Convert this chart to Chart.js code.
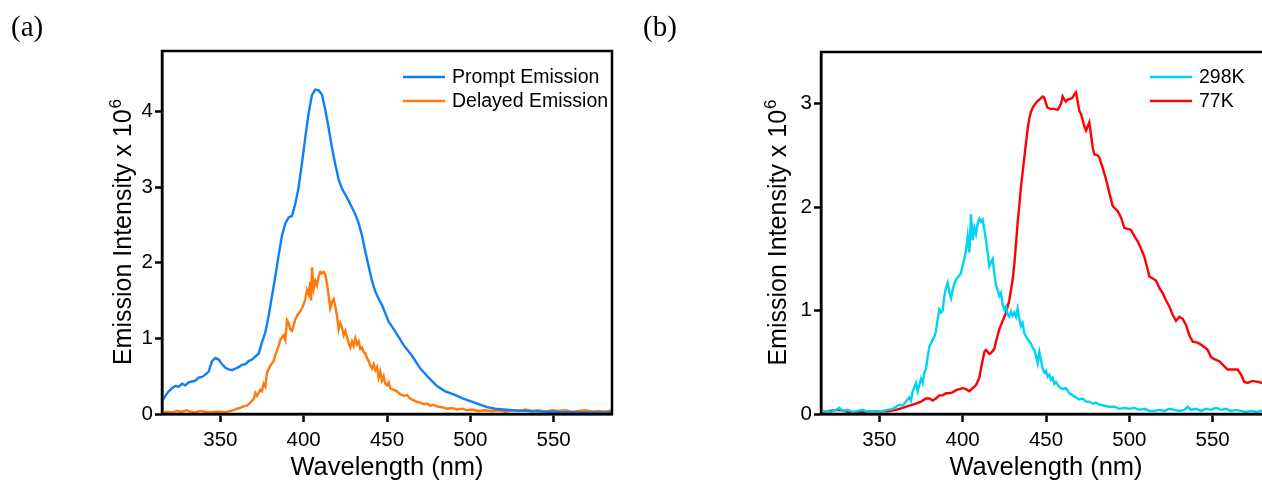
<!DOCTYPE html>
<html>
<head>
<meta charset="utf-8">
<script src="https://cdn.jsdelivr.net/npm/chart.js@4/dist/chart.umd.min.js"></script>
<style>
  html, body { margin: 0; padding: 0; background: #fff; }
  body { width: 1262px; height: 492px; overflow: hidden; position: relative; }
  #chartA { position: absolute; left: 0; top: 0; }
  #chartB { position: absolute; left: 640px; top: 0; }
</style>
</head>
<body>
<canvas id="chartA" width="640" height="492"></canvas>
<canvas id="chartB" width="660" height="492"></canvas>
<script>
// ===== Data (wavelength in nm, intensity x 10^6) =====

const xTicks = [350, 400, 450, 500, 550];
const yTicksA = [0, 1, 2, 3, 4];
const yTicksB = [0, 1, 2, 3];

const promptWl = [315, 317, 319, 321, 323, 325, 327, 329, 331, 333, 335, 337, 339, 341, 343, 345, 347, 349, 351, 353, 355, 357, 359, 361, 363, 365, 367, 369, 371, 373, 375, 377, 379, 381, 383, 385, 387, 389, 391, 393, 395, 397, 399, 401, 403, 405, 407, 409, 411, 413, 415, 417, 419, 421, 423, 425, 427, 429, 431, 433, 435, 437, 439, 441, 443, 445, 447, 449, 451, 455, 460, 465, 470, 475, 480, 485, 490, 495, 500, 505, 510, 515, 520, 525, 530, 535, 540, 545, 550, 555, 560, 565, 570, 575, 580, 585];
const promptVal = [0.16, 0.24, 0.30, 0.34, 0.37, 0.36, 0.40, 0.38, 0.42, 0.43, 0.44, 0.48, 0.49, 0.52, 0.56, 0.70, 0.74, 0.72, 0.66, 0.61, 0.59, 0.58, 0.60, 0.62, 0.65, 0.66, 0.70, 0.72, 0.76, 0.80, 0.95, 1.08, 1.30, 1.56, 1.82, 2.10, 2.36, 2.52, 2.60, 2.62, 2.78, 3.00, 3.32, 3.66, 3.98, 4.22, 4.29, 4.28, 4.22, 4.02, 3.78, 3.52, 3.30, 3.10, 2.98, 2.90, 2.82, 2.73, 2.64, 2.52, 2.36, 2.15, 1.95, 1.76, 1.62, 1.52, 1.44, 1.33, 1.22, 1.09, 0.91, 0.77, 0.60, 0.48, 0.37, 0.30, 0.26, 0.21, 0.17, 0.13, 0.09, 0.07, 0.06, 0.05, 0.045, 0.04, 0.035, 0.03, 0.03, 0.025, 0.025, 0.02, 0.02, 0.02, 0.02, 0.02];

const delayedWl = [315, 318, 321, 324, 327, 330, 332, 335, 338, 341, 344, 347, 350, 353, 356, 358, 360, 362, 364, 366, 368, 370, 371, 372, 374, 375, 376, 377, 378, 380, 382, 383, 385, 386, 388, 389, 390, 391, 392, 393, 395, 396, 398, 399, 400, 401, 402, 403, 404, 404.5, 405, 406, 407, 408, 409, 410, 411, 412, 413, 414, 415, 416, 417, 418, 419, 420, 421, 422, 423, 424, 425, 426, 427, 428, 429, 430, 431, 432, 433, 434, 435, 436, 437, 438, 439, 440, 441, 442, 443, 444, 445, 446, 447, 448, 449, 450, 451, 452, 454, 456, 458, 460, 462, 464, 466, 468, 470, 472, 474, 476, 478, 480, 483, 486, 489, 492, 495, 498, 501, 505, 509, 513, 517, 521, 525, 529, 533, 537, 541, 545, 549, 553, 557, 561, 565, 569, 573, 577, 581, 585];
const delayedVal = [0.02, 0.03, 0.02, 0.04, 0.03, 0.05, 0.03, 0.02, 0.04, 0.03, 0.02, 0.03, 0.03, 0.02, 0.04, 0.05, 0.07, 0.08, 0.10, 0.11, 0.15, 0.20, 0.28, 0.24, 0.32, 0.30, 0.40, 0.36, 0.55, 0.64, 0.70, 0.78, 0.90, 0.98, 1.04, 0.98, 1.24, 1.20, 1.12, 1.10, 1.25, 1.30, 1.36, 1.40, 1.45, 1.52, 1.64, 1.58, 1.75, 1.50, 1.94, 1.66, 1.76, 1.70, 1.82, 1.88, 1.86, 1.88, 1.84, 1.72, 1.56, 1.40, 1.48, 1.52, 1.42, 1.30, 1.12, 1.20, 1.14, 1.04, 1.10, 1.02, 0.94, 0.88, 0.96, 0.90, 1.00, 0.92, 0.96, 0.86, 0.88, 0.82, 0.80, 0.74, 0.70, 0.64, 0.60, 0.66, 0.58, 0.62, 0.48, 0.56, 0.44, 0.50, 0.40, 0.38, 0.42, 0.34, 0.32, 0.30, 0.26, 0.24, 0.25, 0.20, 0.18, 0.16, 0.15, 0.13, 0.14, 0.11, 0.12, 0.10, 0.09, 0.07, 0.08, 0.06, 0.07, 0.05, 0.06, 0.04, 0.05, 0.04, 0.05, 0.03, 0.05, 0.04, 0.06, 0.04, 0.05, 0.03, 0.05, 0.04, 0.05, 0.03, 0.04, 0.05, 0.03, 0.04, 0.03, 0.05];

const rtWl = [315, 318, 321, 324, 326, 328, 331, 334, 337, 340, 343, 346, 349, 352, 355, 358, 360, 362, 364, 366, 368, 369, 370, 371, 372, 373, 374, 375, 376, 377, 378, 379, 380, 381, 382, 383, 384, 385, 386, 387, 388, 389, 390, 391, 392, 393, 394, 395, 396, 398, 399, 400, 401, 402, 403, 404, 405, 406, 407, 408, 409, 410, 411, 412, 413, 414, 415, 416, 417, 418, 419, 420, 421, 422, 423, 424, 425, 426, 427, 428, 429, 430, 431, 432, 433, 434, 435, 436, 437, 438, 439, 440, 441, 442, 443, 444, 445, 446, 447, 448, 449, 450, 451, 452, 453, 454, 455, 456, 458, 460, 462, 464, 466, 468, 470, 472, 474, 476, 478, 480, 482, 485, 488, 491, 494, 497, 500, 503, 506, 509, 512, 515, 518, 521, 524, 527, 530, 533, 535, 537, 540, 543, 546, 549, 552, 555, 558, 561, 564, 567, 570, 573, 576, 579, 582, 585];
const rtVal = [0.02, 0.03, 0.02, 0.04, 0.06, 0.03, 0.04, 0.02, 0.03, 0.04, 0.02, 0.03, 0.02, 0.03, 0.04, 0.05, 0.07, 0.09, 0.08, 0.12, 0.16, 0.13, 0.22, 0.26, 0.30, 0.22, 0.28, 0.34, 0.30, 0.40, 0.44, 0.55, 0.65, 0.68, 0.72, 0.75, 0.80, 0.92, 1.01, 0.98, 1.00, 1.14, 1.22, 1.27, 1.18, 1.12, 1.20, 1.26, 1.30, 1.34, 1.36, 1.44, 1.50, 1.58, 1.72, 1.56, 1.93, 1.68, 1.80, 1.74, 1.84, 1.89, 1.86, 1.88, 1.78, 1.68, 1.55, 1.43, 1.47, 1.50, 1.36, 1.24, 1.20, 1.14, 1.17, 1.06, 1.01, 1.04, 0.96, 0.94, 0.99, 0.95, 0.98, 0.94, 1.02, 0.92, 0.85, 0.88, 0.78, 0.75, 0.72, 0.70, 0.68, 0.64, 0.62, 0.56, 0.49, 0.60, 0.52, 0.44, 0.40, 0.42, 0.36, 0.38, 0.33, 0.35, 0.29, 0.31, 0.26, 0.24, 0.25, 0.20, 0.18, 0.16, 0.14, 0.15, 0.12, 0.12, 0.10, 0.11, 0.09, 0.08, 0.07, 0.07, 0.05, 0.06, 0.05, 0.06, 0.04, 0.05, 0.03, 0.03, 0.04, 0.03, 0.05, 0.04, 0.03, 0.04, 0.07, 0.04, 0.05, 0.03, 0.05, 0.04, 0.06, 0.04, 0.05, 0.03, 0.04, 0.03, 0.02, 0.03, 0.02, 0.03, 0.02, 0.03];

const lowWl = [315, 320, 325, 328, 331, 334, 337, 340, 345, 350, 355, 360, 364, 368, 372, 375, 378, 380, 382, 384, 386, 388, 390, 392, 394, 396, 398, 400, 402, 404, 406, 408, 410, 411, 412, 413, 414, 415, 416, 417, 419, 420, 422, 424, 426, 428, 429, 430, 431, 432, 433, 434, 435, 436, 437, 438, 439, 440, 441, 442, 444, 446, 448, 449, 450, 451, 453, 455, 457, 459, 460, 461, 462, 463, 465, 466, 467, 468, 469, 470, 471, 473, 474, 475, 476, 477, 478, 479, 481, 482, 484, 486, 488, 490, 492, 493, 495, 497, 499, 501, 503, 505, 507, 509, 511, 512, 514, 516, 518, 520, 522, 524, 526, 528, 530, 532, 534, 536, 538, 541, 544, 547, 549, 551, 554, 557, 559, 562, 565, 567, 569, 571, 574, 577, 580, 583, 585];
const lowVal = [0.02, 0.03, 0.04, 0.035, 0.02, 0.01, 0.02, 0.02, 0.025, 0.025, 0.025, 0.04, 0.06, 0.08, 0.10, 0.12, 0.15, 0.15, 0.13, 0.15, 0.18, 0.18, 0.20, 0.20, 0.21, 0.23, 0.24, 0.25, 0.24, 0.22, 0.25, 0.28, 0.35, 0.44, 0.52, 0.60, 0.62, 0.60, 0.58, 0.59, 0.63, 0.70, 0.82, 0.90, 0.98, 1.10, 1.20, 1.30, 1.45, 1.65, 1.85, 2.02, 2.20, 2.34, 2.48, 2.62, 2.76, 2.86, 2.92, 2.96, 3.01, 3.04, 3.07, 3.06, 3.00, 2.96, 2.95, 2.95, 2.94, 3.00, 3.07, 3.04, 3.02, 3.04, 3.05, 3.06, 3.09, 3.11, 3.02, 2.93, 2.90, 2.78, 2.74, 2.78, 2.82, 2.70, 2.58, 2.51, 2.50, 2.48, 2.38, 2.27, 2.14, 2.01, 1.98, 1.96, 1.90, 1.80, 1.79, 1.78, 1.72, 1.67, 1.60, 1.52, 1.40, 1.33, 1.31, 1.29, 1.22, 1.17, 1.10, 1.04, 0.96, 0.90, 0.94, 0.92, 0.86, 0.76, 0.70, 0.69, 0.66, 0.62, 0.55, 0.53, 0.51, 0.46, 0.43, 0.43, 0.43, 0.38, 0.31, 0.30, 0.32, 0.31, 0.30, 0.29, 0.30];

document.addEventListener("DOMContentLoaded", () => {

  const black = "#000";
  const sans = "'Liberation Sans', Arial, sans-serif";

  function pts(xs, ys) {
    return xs.map((x, i) => ({ x: x, y: ys[i] }));
  }

  // box, axis titles, panel label and legend drawn on top of the chart
  const decorPlugin = {
    id: "decor",
    afterDraw(chart, args, opts) {
      const ctx = chart.ctx;
      const a = chart.chartArea;
      ctx.save();

      // frame
      ctx.strokeStyle = black;
      ctx.lineWidth = 2.5;
      ctx.strokeRect(a.left, a.top, a.right - a.left, a.bottom - a.top);

      ctx.fillStyle = black;

      // panel label
      ctx.font = "29px 'Liberation Serif', 'Times New Roman', serif";
      ctx.textAlign = "left";
      ctx.textBaseline = "alphabetic";
      ctx.fillText(opts.panel, opts.panelX, 36);

      // x title
      ctx.font = "25.5px " + sans;
      ctx.textAlign = "center";
      ctx.fillText("Wavelength (nm)", (a.left + a.right) / 2, 475);

      // y title with superscript
      const main = "Emission Intensity x 10";
      ctx.save();
      ctx.translate(a.left - opts.yTitleGap, (a.top + a.bottom) / 2);
      ctx.rotate(-Math.PI / 2);
      ctx.font = "25px " + sans;
      const w1 = ctx.measureText(main).width;
      ctx.font = "17px " + sans;
      const w2 = ctx.measureText("6").width;
      const start = -(w1 + w2) / 2;
      ctx.textAlign = "left";
      ctx.font = "25px " + sans;
      ctx.fillText(main, start, 0);
      ctx.font = "17px " + sans;
      ctx.fillText("6", start + w1 + 1, -10);
      ctx.restore();

      // legend
      ctx.font = "19.5px " + sans;
      ctx.textAlign = "left";
      ctx.textBaseline = "middle";
      chart.data.datasets.forEach((ds, i) => {
        const y = opts.legendY + i * 24;
        const x = a.left + opts.legendX;
        ctx.strokeStyle = ds.borderColor;
        ctx.lineWidth = 2.5;
        ctx.beginPath();
        ctx.moveTo(x, y);
        ctx.lineTo(x + 42, y);
        ctx.stroke();
        ctx.fillStyle = black;
        ctx.fillText(ds.label, x + 49, y + 1);
      });

      ctx.restore();
    }
  };

  function makeChart(canvasId, datasets, yMax, yTicks, cfg) {
    const ctx = document.getElementById(canvasId).getContext("2d");
    return new Chart(ctx, {
      type: "line",
      data: { datasets: datasets },
      options: {
        responsive: false,
        animation: false,
        devicePixelRatio: 1,
        layout: { padding: { top: cfg.padTop, right: cfg.padRight, left: 0, bottom: 0 } },
        elements: {
          point: { radius: 0 },
          line: { borderWidth: 2.4, tension: 0 }
        },
        plugins: {
          legend: { display: false },
          tooltip: { enabled: false },
          decor: cfg.decor
        },
        scales: {
          x: {
            type: "linear",
            min: 315,
            max: 585,
            afterFit: s => { s.height = 78; },
            afterBuildTicks: s => { s.ticks = xTicks.map(v => ({ value: v })); },
            grid: { drawOnChartArea: false, drawTicks: true, tickLength: 8, tickWidth: 2.5, tickColor: black },
            border: { display: true, color: black, width: 2.5 },
            ticks: { color: black, padding: 6, maxRotation: 0, font: { family: sans, size: 20.5 } }
          },
          y: {
            type: "linear",
            min: 0,
            max: yMax,
            afterFit: s => { s.width = cfg.yWidth; },
            afterBuildTicks: s => { s.ticks = yTicks.map(v => ({ value: v })); },
            grid: { drawOnChartArea: false, drawTicks: true, tickLength: 7, tickWidth: 2.5, tickColor: black },
            border: { display: true, color: black, width: 2.5 },
            ticks: { color: black, padding: 2, font: { family: sans, size: 20.5 } }
          }
        }
      },
      plugins: [decorPlugin]
    });
  }

  makeChart("chartA", [
    { label: "Prompt Emission", data: pts(promptWl, promptVal), borderColor: "#0f7ff8" },
    { label: "Delayed Emission", data: pts(delayedWl, delayedVal), borderColor: "#ff7a0a" }
  ], 4.8, yTicksA, {
    padTop: 51, padRight: 28, yWidth: 162,
    decor: { panel: "(a)", panelX: 11, yTitleGap: 31, legendX: 241, legendY: 77 }
  });

  makeChart("chartB", [
    { label: "298K", data: pts(rtWl, rtVal), borderColor: "#00d4f4" },
    { label: "77K", data: pts(lowWl, lowVal), borderColor: "#ff0000" }
  ], 3.5, yTicksB, {
    padTop: 52, padRight: 29, yWidth: 181,
    decor: { panel: "(b)", panelX: 3, yTitleGap: 35, legendX: 329, legendY: 77 }
  });

});
</script>
</body>
</html>
